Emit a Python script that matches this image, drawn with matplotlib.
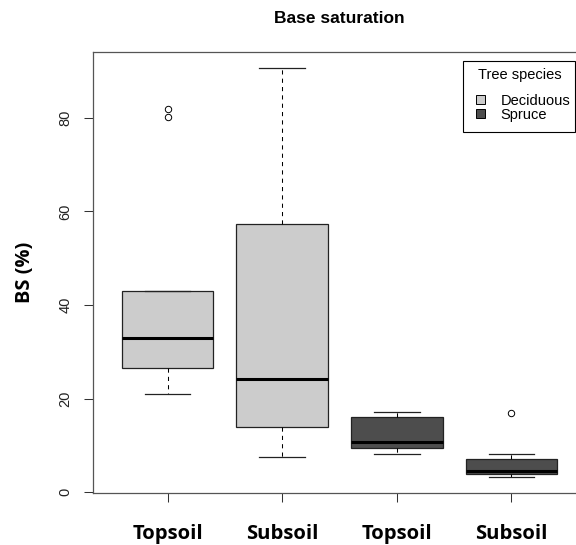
import matplotlib
matplotlib.use("Agg")
import matplotlib.pyplot as plt
from matplotlib.patches import Rectangle

# Soil base saturation by horizon and tree species (box summaries)
horizons = ["Topsoil", "Subsoil", "Topsoil", "Subsoil"]
species = ["Deciduous", "Deciduous", "Spruce", "Spruce"]
q1 = [26.6, 13.9, 9.4, 3.9]
median = [33.0, 24.2, 10.6, 4.4]
q3 = [43.0, 57.3, 16.1, 7.0]
whisker_low = [20.9, 7.6, 8.1, 3.3]
whisker_high = [43.0, 90.6, 17.2, 8.1]
outliers = [[80.2, 82.0], [], [], [16.8]]
yticks = [0, 20, 40, 60, 80]

species_colors = {"Deciduous": "#CCCCCC", "Spruce": "#4D4D4D"}

W, H, DPI = 576, 545, 100
fig = plt.figure(figsize=(W / DPI, H / DPI), dpi=DPI)

def fx(px):
    return px / W

def fy(py):
    return 1 - py / H

ax_left, ax_right, ax_top, ax_bottom = 93, 586, 52, 493
ax = fig.add_axes([fx(ax_left), fy(ax_bottom),
                   (ax_right - ax_left) / W, (ax_bottom - ax_top) / H])

stats = []
for i in range(len(horizons)):
    stats.append(dict(med=median[i], q1=q1[i], q3=q3[i],
                      whislo=whisker_low[i], whishi=whisker_high[i],
                      fliers=outliers[i], label=horizons[i]))

positions = list(range(1, len(horizons) + 1))
bp = ax.bxp(stats, positions=positions, widths=0.8, capwidths=0.4,
            patch_artist=True, showfliers=True,
            boxprops=dict(edgecolor="#222222", linewidth=0.9),
            medianprops=dict(color="black", linewidth=2.2, solid_capstyle="butt"),
            whiskerprops=dict(color="black", linewidth=0.75, linestyle=(0, (4, 4))),
            capprops=dict(color="#222222", linewidth=0.9),
            flierprops=dict(marker="o", markerfacecolor="none",
                            markeredgecolor="black", markersize=4.6,
                            markeredgewidth=0.7))
for patch, sp in zip(bp["boxes"], species):
    patch.set_facecolor(species_colors[sp])

ax.set_xlim(0.35, 4.65)
ax.set_ylim(-0.2, 94.1)

ax.set_xticks(positions)
ax.set_xticklabels(horizons, fontfamily="Open Sans", fontweight="bold",
                   fontsize=14.6)
ax.set_yticks(yticks)
ax.set_yticklabels([str(v) for v in yticks], rotation=90, va="center",
                   fontfamily="Liberation Sans", fontsize=10.5, color="#222222")
ax.tick_params(axis="x", direction="out", length=6.5, width=0.75, pad=16,
               color="#333333")
ax.tick_params(axis="y", direction="out", length=6.5, width=0.75, pad=8.5,
               color="#333333")

for s in ax.spines.values():
    s.set_color("#555555")
    s.set_linewidth(0.9)

ax.set_ylabel("BS (%)", fontfamily="Open Sans", fontweight="bold",
              fontsize=14.4, va="center")
ax.yaxis.set_label_coords((25 - ax_left) / (ax_right - ax_left), 0.5)

fig.text(fx(339.7), fy(22.7), "Base saturation", ha="center", va="baseline",
         fontfamily="Liberation Sans", fontweight="bold", fontsize=12.5)

# Legend box for tree species
fig.patches.append(Rectangle((fx(462.7), fy(131.7)), fx(575) - fx(462.7),
                             fy(61) - fy(131.7), transform=fig.transFigure,
                             facecolor="white", edgecolor="black",
                             linewidth=0.8, zorder=5))
fig.text(fx(477.7), fy(79.3), "Tree species", ha="left", va="baseline",
         fontfamily="Liberation Sans", fontsize=10.5, zorder=6)
legend_rows = [("Deciduous", 99.5, 105), ("Spruce", 113.3, 119.5)]
for name, sq_center, baseline in legend_rows:
    fig.patches.append(Rectangle((fx(476), fy(sq_center + 4.3)), 8.8 / W, 8.6 / H,
                                 transform=fig.transFigure,
                                 facecolor=species_colors[name],
                                 edgecolor="black", linewidth=0.7, zorder=6))
    fig.text(fx(500.7), fy(baseline), name, ha="left", va="baseline",
             fontfamily="Liberation Sans", fontsize=10.5, zorder=6)

fig.savefig("out.png", dpi=DPI)
